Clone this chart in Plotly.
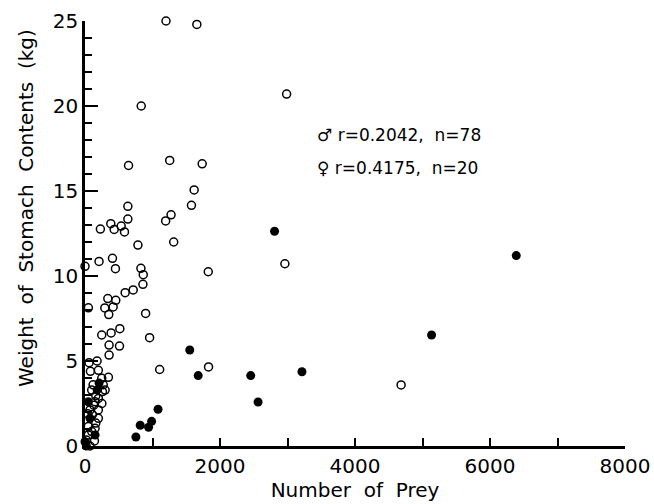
import plotly.graph_objects as go

# male (open circles), n=78
male_prey = [1200, 1657, 833, 2987, 645, 1255, 1736, 1617, 1577, 635,
             635, 382, 536, 228, 432, 585, 1275, 1195, 784, 1314,
             407, 208, 0, 451, 828, 863, 1826, 858, 714, 595,
             338, 456, 50, 293, 417, 352, 898, 516, 248, 387,
             957, 357, 511, 357, 179, 1106, 1830, 2961, 4683, 80,
             198, 347, 248, 99, 298, 258, 198, 74, 198, 198,
             49, 149, 49, 74, 0, 120, 160, 250, 130, 40,
             110, 160, 100, 20, 140, 60, 270, 150]
male_kg = [25.0, 24.8, 20.0, 20.7, 16.5, 16.8, 16.6, 15.06, 14.16, 14.1,
           13.35, 13.08, 12.94, 12.76, 12.74, 12.59, 13.6, 13.24, 11.82, 12.0,
           11.04, 10.86, 10.57, 10.43, 10.45, 10.08, 10.25, 9.51, 9.18, 9.02,
           8.67, 8.57, 8.13, 8.12, 8.18, 7.73, 7.8, 6.9, 6.53, 6.65,
           6.37, 5.94, 5.88, 5.35, 5.0, 4.5, 4.65, 10.72, 3.59, 4.39,
           4.45, 4.04, 3.98, 3.29, 3.29, 3.2, 2.8, 2.12, 2.12, 1.63,
           1.14, 1.04, 0.65, 0.0, -0.15, 3.6, 2.95, 2.5, 2.4, 1.9,
           1.85, 1.35, 0.85, 0.35, 0.3, 4.9, 3.6, 2.6]

# female (filled circles), n=20
female_prey = [2808, 6389, 5134, 1552, 3214, 1677, 2455, 2564, 1082, 987,
               818, 942, 754, 208, 49, 74, 149, 0, 20, 180]
female_kg = [12.63, 11.2, 6.53, 5.65, 4.37, 4.14, 4.14, 2.59, 2.16, 1.45,
             1.22, 1.1, 0.53, 3.7, 2.6, 1.63, 0.65, 0.25, 0.0, 3.3]

font_name = "DejaVu Sans"

fig = go.Figure()
fig.add_trace(go.Scatter(x=male_prey, y=male_kg, mode='markers', cliponaxis=False,
                         marker=dict(symbol='circle-open', size=8, color='black',
                                     line=dict(width=1.5, color='black'))))
fig.add_trace(go.Scatter(x=female_prey, y=female_kg, mode='markers', cliponaxis=False,
                         marker=dict(symbol='circle', size=9, color='black')))

fig.add_annotation(x=3400, y=18.3, xanchor='left', yanchor='middle', showarrow=False,
                   text='\u2642 r=0.2042,  n=78', font=dict(size=17, color='black', family=font_name))
fig.add_annotation(x=3400, y=16.35, xanchor='left', yanchor='middle', showarrow=False,
                   text='\u2640 r=0.4175,  n=20', font=dict(size=17, color='black', family=font_name))
# y title placed by hand, it sits above the axis centre in the original
fig.add_annotation(xref='paper', x=0, xshift=-59, y=14.0, xanchor='center', yanchor='middle',
                   showarrow=False, textangle=-90,
                   text='Weight  of  Stomach  Contents  (kg)', font=dict(size=20, color='black', family=font_name))

fig.update_xaxes(range=[0, 8000], tickvals=[0, 2000, 4000, 6000, 8000],
                 ticks='inside', ticklen=8, tickwidth=2, tickcolor='black',
                 minor=dict(dtick=1000, ticks='inside', ticklen=8, tickwidth=2, tickcolor='black'),
                 showline=True, linewidth=2.5, linecolor='black', showgrid=False, zeroline=False,
                 tickfont=dict(size=20, color='black', family=font_name),
                 title=dict(text='Number  of  Prey', font=dict(size=20, color='black', family=font_name), standoff=4))
fig.update_yaxes(range=[0, 25], tickvals=[0, 5, 10, 15, 20, 25],
                 ticks='inside', ticklen=13, tickwidth=2, tickcolor='black',
                 minor=dict(dtick=1, ticks='inside', ticklen=7, tickwidth=2, tickcolor='black'),
                 showline=True, linewidth=2.5, linecolor='black', showgrid=False, zeroline=False,
                 tickfont=dict(size=20, color='black', family=font_name))

fig.update_layout(width=654, height=504, showlegend=False,
                  margin=dict(l=85, r=29, t=21, b=58, autoexpand=False),
                  paper_bgcolor='white', plot_bgcolor='white')

fig.write_html("out.html", config={'displayModeBar': False},
               post_script="document.body.style.margin='0';")
